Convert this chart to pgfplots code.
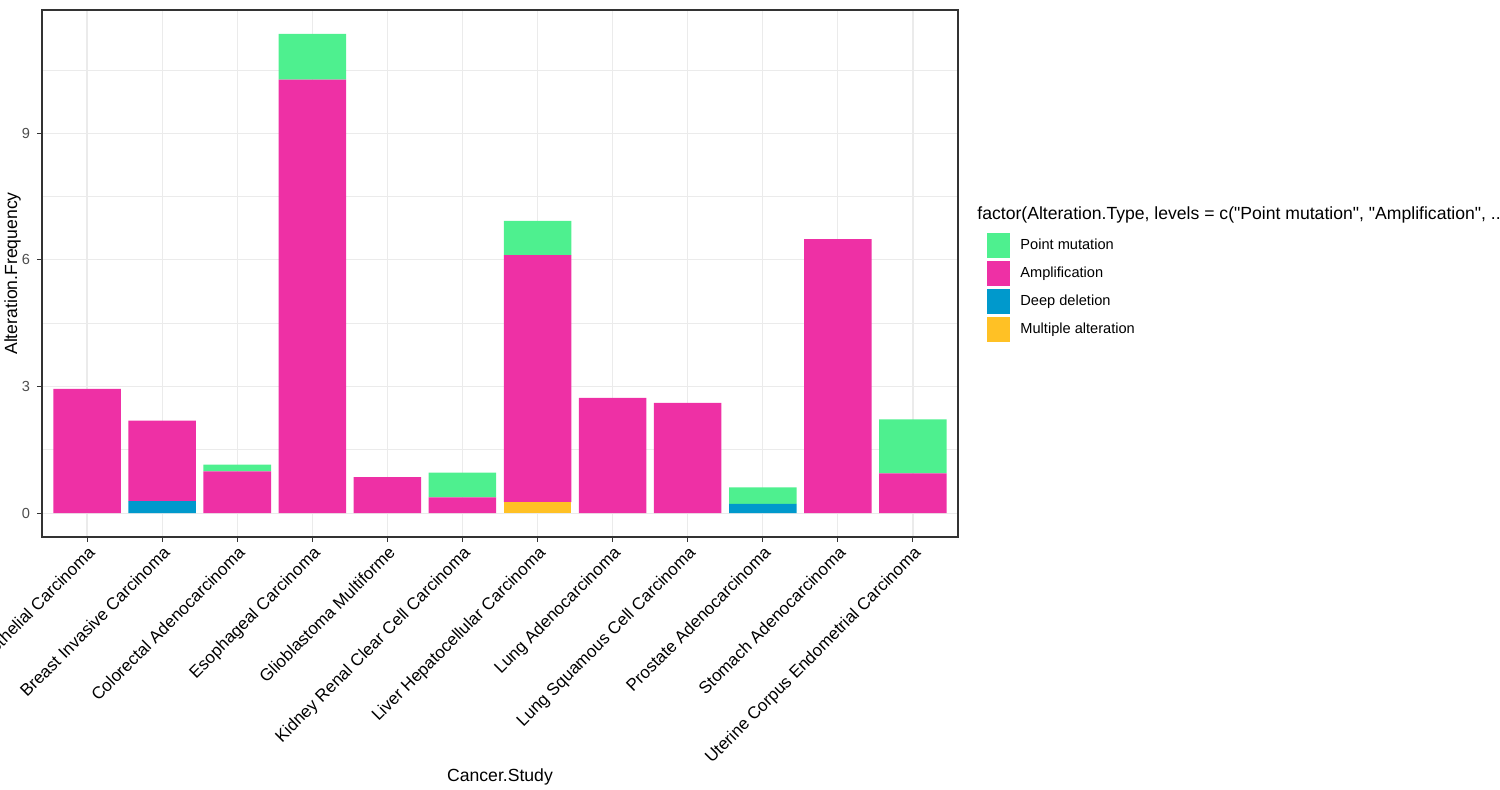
\documentclass[border=0pt]{standalone}
\usepackage{fontspec}
\setmainfont{Liberation Sans}
\usepackage{pgfplots}
\pgfplotsset{compat=1.18}
\usepackage{pgfplotstable}
\definecolor{cpoint}{HTML}{4EF08F}
\definecolor{camp}{HTML}{EE30A5}
\definecolor{cdeep}{HTML}{0099CC}
\definecolor{cmult}{HTML}{FFC125}
\definecolor{gridgray}{HTML}{EBEBEB}
\definecolor{axgray}{HTML}{333333}
\definecolor{txtgray}{HTML}{4D4D4D}

\pgfplotstableread{
x mult deep amp point
1 0 0 2.94 0
2 0 0.28 1.91 0
3 0 0 0.99 0.16
4 0 0 10.27 1.08
5 0 0 0.85 0
6 0 0 0.37 0.59
7 0.26 0 5.85 0.81
8 0 0 2.73 0
9 0 0 2.61 0
10 0 0.22 0 0.39
11 0 0 6.49 0
12 0 0 0.94 1.28
}\datatable

\begin{document}
\begin{tikzpicture}
\begin{pgfinterruptboundingbox}
\begin{axis}[
  name=ax,
  scale only axis, width=458pt, height=263.5pt,
  ybar stacked, bar width=0.9,
  xmin=0.4, xmax=12.6, ymin=-0.5675, ymax=11.9175,
  xtick={1,2,3,4,5,6,7,8,9,10,11,12},
  xticklabels={Bladder Urothelial Carcinoma,Breast Invasive Carcinoma,Colorectal Adenocarcinoma,Esophageal Carcinoma,Glioblastoma Multiforme,Kidney Renal Clear Cell Carcinoma,Liver Hepatocellular Carcinoma,Lung Adenocarcinoma,Lung Squamous Cell Carcinoma,Prostate Adenocarcinoma,Stomach Adenocarcinoma,Uterine Corpus Endometrial Carcinoma},
  ytick={0,3,6,9}, minor ytick={1.5,4.5,7.5,10.5},
  grid=both,
  major grid style={color=gridgray, line width=0.55pt},
  minor grid style={color=gridgray, line width=0.3pt},
  axis line style={color=axgray, line width=0.55pt},
  tick pos=left,
  tick align=outside, major tick length=2.5pt, minor tick length=0pt,
  tick style={color=axgray, line width=0.5pt},
  /pgf/number format/assume math mode=true,
  yticklabel style={font=\fontsize{7.3}{8}\selectfont, text=txtgray},
  xticklabel style={font=\fontsize{8.5}{9}\selectfont, text=black, rotate=45, anchor=north east, inner sep=1pt},
  xlabel={Cancer.Study}, ylabel={Alteration.Frequency},
  label style={font=\fontsize{8.8}{10}\selectfont},
  xlabel style={at={(rel axis cs:0.5,0)}, anchor=base, yshift=-122pt},
  ylabel style={at={(rel axis cs:0,0.5)}, anchor=center, yshift=14.75pt},
  reverse legend,
  legend style={at={(rel axis cs:1.0317,0.5769)}, anchor=north west, draw=none, fill=none,
    inner sep=0pt, row sep=1.5pt, font=\fontsize{7.3}{8.5}\selectfont,
    /tikz/every odd column/.append style={column sep=3pt}},
  legend cell align=left,
  legend image code/.code={\fill[#1] (0pt,-6.25pt) rectangle (11.5pt,6.25pt);},
]
\addplot[fill=cmult, draw=none] table[x=x,y=mult]{\datatable};
\addlegendentry{Multiple alteration}
\addplot[fill=cdeep, draw=none] table[x=x,y=deep]{\datatable};
\addlegendentry{Deep deletion}
\addplot[fill=camp, draw=none] table[x=x,y=amp]{\datatable};
\addlegendentry{Amplification}
\addplot[fill=cpoint, draw=none] table[x=x,y=point]{\datatable};
\addlegendentry{Point mutation}
\end{axis}
\node[anchor=base west, inner sep=0pt, font=\fontsize{8.8}{10}\selectfont] at ([shift={(467.5pt,159pt)}]ax.south west) {factor(Alteration.Type, levels = c(\textquotedbl Point mutation\textquotedbl, \textquotedbl Amplification\textquotedbl, ...};
\end{pgfinterruptboundingbox}
\path[use as bounding box] ([shift={(-21pt,-126pt)}]ax.south west) rectangle ([shift={(729pt,268.5pt)}]ax.south west);
\end{tikzpicture}
\end{document}
